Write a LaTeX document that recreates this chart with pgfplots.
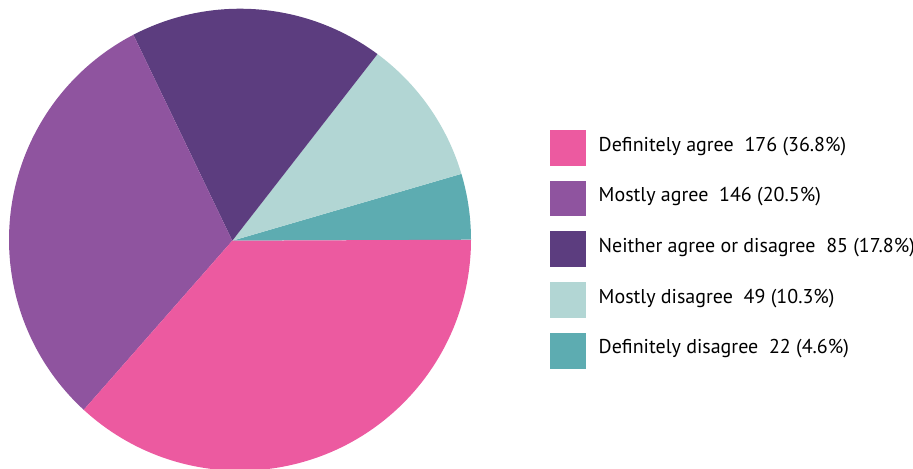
\documentclass[border=0pt]{standalone}
\usepackage{pgfplots}
\pgfplotsset{compat=1.18}
\usepackage{fontspec}
\setmainfont{PT Sans}
\usetikzlibrary{calc}
\definecolor{cda}{HTML}{EC5AA0}
\definecolor{cma}{HTML}{8F549F}
\definecolor{cn}{HTML}{5C3D7F}
\definecolor{cmd}{HTML}{B2D6D4}
\definecolor{cdd}{HTML}{5DACB1}
% counts (total 478)
\def\vDD{22}\def\vMD{49}\def\vN{85}\def\vMA{146}\def\vDA{176}
\pgfmathsetmacro\aA{0}
\pgfmathsetmacro\aB{\aA+\vDD/478*360}
\pgfmathsetmacro\aC{\aB+\vMD/478*360}
\pgfmathsetmacro\aD{\aC+\vN/478*360}
\pgfmathsetmacro\aE{\aD+\vMA/478*360}
\pgfmathsetmacro\aF{\aE+\vDA/478*360}
\def\R{115.5pt}
\begin{document}
\begin{tikzpicture}
\begin{axis}[name=ax, hide axis, scale only axis, width=456.5pt, height=234pt,
  xmin=0, xmax=913, ymin=0, ymax=468, clip=false]
\fill[cdd] (axis cs:232.3,227.3) -- ($(axis cs:240,228.3)+(\aA:\R)$) arc[start angle=\aA, end angle=\aB, radius=\R] -- cycle;
\fill[cmd] (axis cs:232.3,227.3) -- ($(axis cs:240,228.3)+(\aB:\R)$) arc[start angle=\aB, end angle=\aC, radius=\R] -- cycle;
\fill[cn] (axis cs:232.3,227.3) -- ($(axis cs:240,228.3)+(\aC:\R)$) arc[start angle=\aC, end angle=\aD, radius=\R] -- cycle;
\fill[cma] (axis cs:232.3,227.3) -- ($(axis cs:240,228.3)+(\aD:\R)$) arc[start angle=\aD, end angle=\aE, radius=\R] -- cycle;
\fill[cda] (axis cs:232.3,227.3) -- ($(axis cs:240,228.3)+(\aE:\R)$) arc[start angle=\aE, end angle=\aF, radius=\R] -- cycle;
% legend
\fill[cda] (axis cs:550,338) rectangle (axis cs:585.7,302.3);
\fill[cma] (axis cs:550,287.3) rectangle (axis cs:585.7,251.6);
\fill[cn]  (axis cs:550,236.6) rectangle (axis cs:585.7,200.9);
\fill[cmd] (axis cs:550,185.9) rectangle (axis cs:585.7,150.2);
\fill[cdd] (axis cs:550,135.2) rectangle (axis cs:585.7,99.5);
\node[anchor=base west, inner sep=0pt, font=\fontsize{10}{12}\selectfont] at (axis cs:598.3,317) {Definitely agree\ \ 176 (36.8\%)};
\node[anchor=base west, inner sep=0pt, font=\fontsize{10}{12}\selectfont] at (axis cs:598.3,266.3) {Mostly agree\ \ 146 (20.5\%)};
\node[anchor=base west, inner sep=0pt, font=\fontsize{10}{12}\selectfont] at (axis cs:598.3,215.6) {Neither agree or disagree\ \ 85 (17.8\%)};
\node[anchor=base west, inner sep=0pt, font=\fontsize{10}{12}\selectfont] at (axis cs:598.3,164.9) {Mostly disagree\ \ 49 (10.3\%)};
\node[anchor=base west, inner sep=0pt, font=\fontsize{10}{12}\selectfont] at (axis cs:598.3,114.2) {Definitely disagree\ \ 22 (4.6\%)};
\end{axis}
\pgfresetboundingbox
\path[use as bounding box] (ax.south west) rectangle (ax.north east);
\end{tikzpicture}
\end{document}
